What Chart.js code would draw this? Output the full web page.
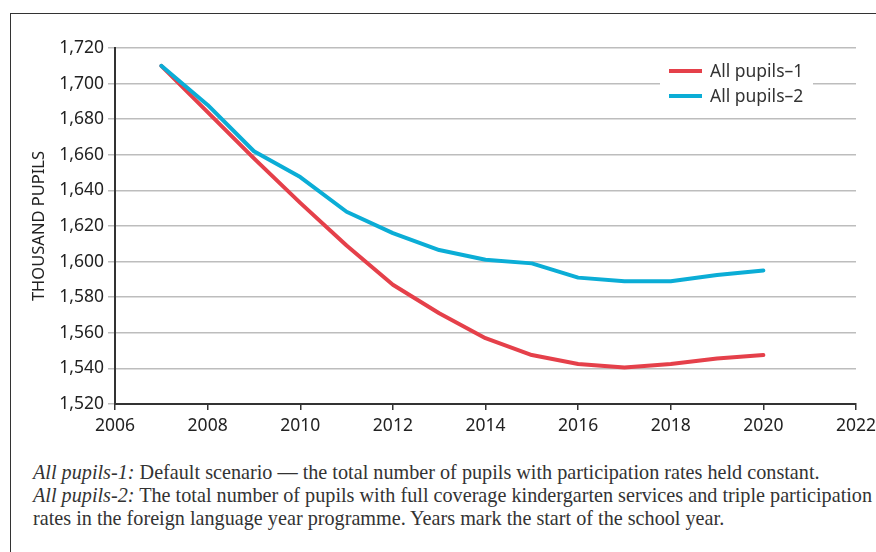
<!DOCTYPE html>
<html lang="en">
<head>
<meta charset="UTF-8">
<title>All pupils projection</title>
<script src="https://cdn.jsdelivr.net/npm/chart.js@4/dist/chart.umd.min.js"></script>
<style>
    body { margin: 0; background: #fff; }
    .frame {
        position: absolute; left: 10px; top: 13px; width: 900px; height: 600px;
        border-top: 1.5px solid #333; border-left: 1.5px solid #333;
    }
    .wrap { position: absolute; left: 0; top: 0; width: 876px; height: 450px; }
    .note {
        position: absolute; left: 33px; top: 461px; width: 843px; white-space: nowrap;
        font-family: "Liberation Serif", serif; font-size: 20.2px; line-height: 23px; color: #333;
    }
    .note i { font-style: italic; }
</style>
</head>
<body>
<div class="frame"></div>
<div class="wrap"><canvas id="pupilsChart"></canvas></div>
<div class="note">
    <i>All pupils-1:</i> Default scenario — the total number of pupils with participation rates held constant.<br>
    <i>All pupils-2:</i> The total number of pupils with full coverage kindergarten services and triple participation<br>
    rates in the foreign language year programme. Years mark the start of the school year.
</div>

<script>
    const years = [2007, 2008, 2009, 2010, 2011, 2012, 2013, 2014, 2015, 2016, 2017, 2018, 2019, 2020];
    const allPupils1 = [1710, 1684, 1658, 1633, 1609, 1587, 1571, 1557, 1547.5, 1542.5, 1540.5, 1542.5, 1545.5, 1547.5];
    const allPupils2 = [1710, 1688, 1662, 1647.5, 1628, 1616, 1606.5, 1601, 1599, 1591, 1589, 1589, 1592.5, 1595];
    const seriesNames = ['All pupils–1', 'All pupils–2'];
    const seriesColors = ['#e5404a', '#0badd6'];

    // legend drawn inside the plot, top right, on a white patch
    const innerLegend = {
        id: 'innerLegend',
        afterDatasetsDraw(chart) {
            const ctx = chart.ctx;
            ctx.save();
            ctx.fillStyle = '#fff';
            ctx.fillRect(660, 60, 153, 50);
            ctx.font = '17.5px "Noto Sans", sans-serif';
            ctx.textBaseline = 'middle';
            seriesNames.forEach((name, i) => {
                const y = 71 + i * 25;
                ctx.strokeStyle = seriesColors[i];
                ctx.lineWidth = 4;
                ctx.beginPath();
                ctx.moveTo(669, y);
                ctx.lineTo(702, y);
                ctx.stroke();
                ctx.fillStyle = '#333';
                ctx.fillText(name, 710, y + 1);
            });
            ctx.restore();
        }
    };

    const toPoints = vals => vals.map((v, i) => ({ x: years[i], y: v }));

    new Chart('pupilsChart', {
        type: 'line',
        data: {
            datasets: seriesNames.map((name, i) => ({
                label: name,
                data: toPoints(i === 0 ? allPupils1 : allPupils2),
                borderColor: seriesColors[i],
                borderWidth: 4,
                pointRadius: 0,
                tension: 0,
                borderCapStyle: 'round',
                borderJoinStyle: 'round'
            })).reverse()
        },
        options: {
            responsive: true,
            maintainAspectRatio: false,
            animation: false,
            layout: { padding: { top: 48, right: 20, bottom: 0, left: 0 } },
            plugins: { legend: { display: false }, tooltip: { enabled: false } },
            scales: {
                x: {
                    type: 'linear',
                    min: 2006, max: 2022,
                    afterFit: s => { s.height = 46; s.paddingLeft = 0; s.paddingRight = 0; },
                    ticks: {
                        stepSize: 2, padding: 6, color: '#222',
                        font: { family: '"Noto Sans", sans-serif', size: 17.5 },
                        callback: v => String(v)
                    },
                    grid: { drawOnChartArea: false, drawTicks: true, tickLength: 6, color: '#333', lineWidth: 1.5 },
                    border: { color: '#333', width: 2 }
                },
                y: {
                    min: 1520, max: 1720,
                    afterFit: s => { s.width = 115; },
                    title: {
                        display: true, text: 'THOUSAND PUPILS', color: '#222',
                        font: { family: '"Noto Sans", sans-serif', size: 16.5 },
                        padding: { top: 29, bottom: 0 }
                    },
                    ticks: {
                        stepSize: 20, padding: 4, color: '#222',
                        font: { family: '"Noto Sans", sans-serif', size: 17.5 },
                        callback: v => v.toLocaleString('en-US')
                    },
                    grid: { color: '#bdbdbd', lineWidth: 1.5, tickLength: 7 },
                    border: { color: '#333', width: 2 }
                }
            }
        },
        plugins: [innerLegend]
    });
</script>
</body>
</html>
